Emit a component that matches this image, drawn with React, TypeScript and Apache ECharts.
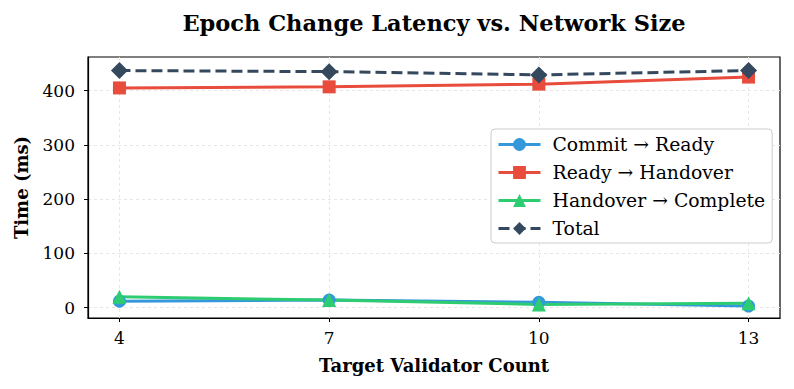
import React, { useEffect, useRef } from "react";
import * as echarts from "echarts";

const validatorCounts = [4, 7, 10, 13];
const commitToReady = [12, 14, 10, 3];
const readyToHandover = [405, 407, 412, 425];
const handoverToComplete = [20, 14, 6, 8];
const total = [437, 435, 429, 437];
const yTicks = [0, 100, 200, 300, 400];
const seriesNames = ["Commit → Ready", "Ready → Handover", "Handover → Complete", "Total"];

const FONT = "DejaVu Serif";

export default function App() {
  const ref = useRef<HTMLDivElement>(null);
  useEffect(() => {
    if (!ref.current) return;
    const chart = echarts.init(ref.current, undefined, { renderer: "svg" });
    const pair = (vals: number[]) => validatorCounts.map((x, i) => [x, vals[i]]);
    const mk = (name: string, vals: number[], color: string, symbol: string, size: number, dashed = false) => ({
      name,
      type: "line",
      data: pair(vals),
      symbol,
      symbolSize: size,
      itemStyle: { color },
      lineStyle: { color, width: 3, type: dashed ? [11, 5] : "solid" },
      z: 3,
    });
    chart.setOption({
      animation: false,
      backgroundColor: "#fff",
      title: {
        text: "Epoch Change Latency vs. Network Size",
        left: 429,
        textAlign: "center",
        top: 6,
        textStyle: { fontFamily: FONT, fontWeight: "bold", fontSize: 22.5, color: "#000" },
      },
      grid: {
        left: 88,
        right: 14,
        top: 57,
        bottom: 71,
        show: true,
        borderColor: "#000",
        borderWidth: 1.2,
        backgroundColor: "transparent",
      },
      legend: {
        left: 491,
        top: 129,
        orient: "vertical",
        data: seriesNames,
        backgroundColor: "#fff",
        borderColor: "#cccccc",
        borderWidth: 1,
        borderRadius: 4,
        padding: [6, 7, 5, 6],
        itemGap: 9,
        itemWidth: 42,
        itemHeight: 16,
        lineStyle: { width: 3 },
        textStyle: { fontFamily: FONT, fontSize: 18.8, color: "#000", lineHeight: 18, padding: [0, 0, 0, 7] },
      },
      xAxis: {
        type: "value",
        min: 3.55,
        max: 13.45,
        name: "Target Validator Count",
        nameLocation: "middle",
        nameGap: 38,
        nameTextStyle: { fontFamily: FONT, fontWeight: "bold", fontSize: 18, color: "#000" },
        axisLine: { show: true, onZero: false, lineStyle: { color: "#000", width: 1.2 } },
        axisTick: { show: true, length: 4, inside: false, customValues: validatorCounts, lineStyle: { color: "#000" } },
        axisLabel: { customValues: validatorCounts, fontFamily: FONT, fontSize: 17, color: "#000", margin: 11 },
        splitLine: { show: true, lineStyle: { color: "#e6e6e6", type: [3, 3], width: 1 } },
      },
      yAxis: {
        type: "value",
        min: -19,
        max: 462,
        name: "Time (ms)",
        nameLocation: "middle",
        nameGap: 58,
        nameTextStyle: { fontFamily: FONT, fontWeight: "bold", fontSize: 18, color: "#000" },
        axisLine: { show: true, onZero: false, lineStyle: { color: "#000", width: 1.2 } },
        axisTick: { show: true, length: 4, inside: false, customValues: yTicks, lineStyle: { color: "#000" } },
        axisLabel: { customValues: yTicks, fontFamily: FONT, fontSize: 17, color: "#000", margin: 13 },
        splitLine: { show: true, lineStyle: { color: "#e6e6e6", type: [3, 3], width: 1 } },
      },
      series: [
        mk(seriesNames[0], commitToReady, "#3498db", "circle", 13),
        mk(seriesNames[1], readyToHandover, "#e74c3c", "rect", 13),
        mk(seriesNames[2], handoverToComplete, "#2ecc71", "triangle", 14),
        mk(seriesNames[3], total, "#34495e", "diamond", 17, true),
      ],
    });
    return () => chart.dispose();
  }, []);
  return <div ref={ref} style={{ width: 794, height: 389, position: "absolute", left: 0, top: 0 }} />;
}
